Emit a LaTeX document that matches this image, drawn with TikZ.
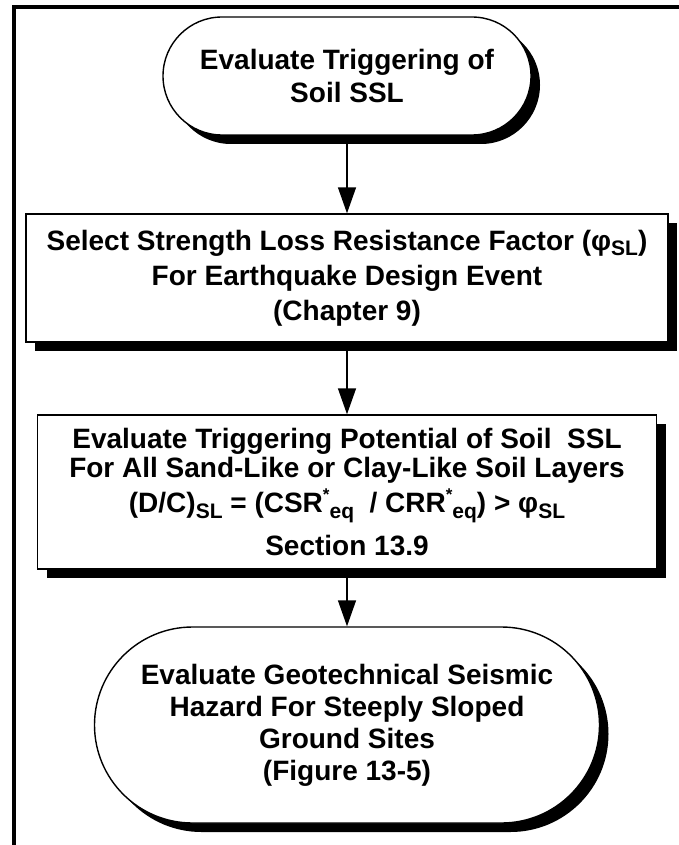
\documentclass[tikz,border=0pt]{standalone}
\usepackage{fontspec}
\setmainfont{Liberation Sans}
\usetikzlibrary{arrows.meta,shadows}

% lowered / raised small text for subscripts and superscripts
\newcommand\sbx[1]{\raisebox{-5.5pt}{\fontsize{21}{21}\selectfont #1}}
\newcommand\spx[1]{\raisebox{12pt}{\fontsize{17}{17}\selectfont #1}}

\begin{document}
\begin{tikzpicture}[x=1pt,y=-1pt,
  every node/.style={align=center, inner sep=0pt},
  txt/.style={font=\bfseries\fontsize{28}{#1}\selectfont},
  outlined/.style={draw=black, line width=1.4pt, fill=white,
    drop shadow={shadow xshift=9pt, shadow yshift=-9pt, fill=black, opacity=1}},
  terminal/.style={outlined, rectangle, rounded corners=#1},
  process/.style={outlined, rectangle},
  flow/.style={line width=1.4pt, -{Triangle[length=26pt,width=18pt]}}
]
\useasboundingbox (0,0) rectangle (678,845);
\fill[white] (0,0) rectangle (678,845);

% page frame (top and left edges)
\draw[line width=3.6pt] (14,860) -- (14,7) -- (690,7);

\node[terminal=59pt, txt=33, minimum width=368pt, minimum height=118pt] (start) at (347,76)
  {Evaluate Triggering of\\Soil SSL};

\node[process, txt=35, minimum width=642pt, minimum height=128pt] (factor) at (347,278)
  {Select Strength Loss Resistance Factor (φ\sbx{SL})\\
   For Earthquake Design Event\\
   (Chapter 9)};

\node[process, txt=29, minimum width=619pt, minimum height=154pt] (trigger) at (347,492)
  {Evaluate Triggering Potential of Soil\ \ SSL\\
   For All Sand-Like or Clay-Like Soil Layers\\[5pt]
   (D/C)\sbx{SL} = (CSR\spx{*}\sbx{eq}\ \ / CRR\spx{*}\sbx{eq}) > φ\sbx{SL}\\[12pt]
   Section 13.9};

\node[terminal=98pt, txt=32, minimum width=505pt, minimum height=196pt] (hazard) at (347,725)
  {Evaluate Geotechnical Seismic\\
   Hazard For Steeply Sloped\\
   Ground Sites\\
   (Figure 13-5)};

\draw[flow] (start.south) -- (factor.north);
\draw[flow] (factor.south) -- (trigger.north);
\draw[flow] (trigger.south) -- (hazard.north);
\end{tikzpicture}
\end{document}
